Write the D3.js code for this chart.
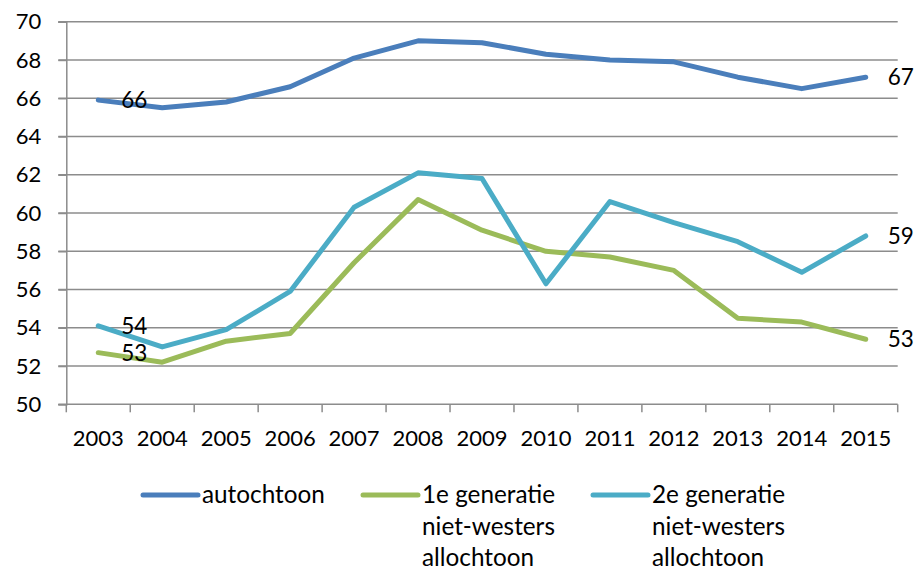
<!DOCTYPE html>
<html>
<head>
<meta charset="utf-8">
<script src="https://cdn.jsdelivr.net/npm/d3@7"></script>
<style>
  html, body { margin: 0; padding: 0; background: #fff; }
  svg { display: block; }
  text { font-family: Lato, "Open Sans", sans-serif; fill: #000; }
</style>
</head>
<body>
<script>
const years = ["2003","2004","2005","2006","2007","2008","2009","2010","2011","2012","2013","2014","2015"];
const autochtoon = [65.9, 65.5, 65.8, 66.6, 68.1, 69.0, 68.9, 68.3, 68.0, 67.9, 67.1, 66.5, 67.1];
const eerstegen  = [52.7, 52.2, 53.3, 53.7, 57.4, 60.7, 59.1, 58.0, 57.7, 57.0, 54.5, 54.3, 53.4];
const tweedegen  = [54.1, 53.0, 53.9, 55.9, 60.3, 62.1, 61.8, 56.3, 60.6, 59.5, 58.5, 56.9, 58.8];
const yTicks = [50, 52, 54, 56, 58, 60, 62, 64, 66, 68, 70];
const seriesNames = [["autochtoon"], ["1e generatie", "niet-westers", "allochtoon"], ["2e generatie", "niet-westers", "allochtoon"]];
const seriesColors = ["#4a7ebb", "#9bbb59", "#4bacc6"];
const labelFirst = ["66", "53", "54"];
const labelLast = ["67", "53", "59"];

const W = 918, H = 570;
const pLeft = 66.3, pRight = 897.7, pTop = 21.7, pBottom = 404.3;

const svg = d3.select("body").append("svg").attr("width", W).attr("height", H);

const x = d3.scaleBand().domain(years).range([pLeft, pRight]).padding(0);
const y = d3.scaleLinear().domain([50, 70]).range([pBottom, pTop]);

const gridColor = "#8c8c8c";

// gridlines
svg.append("g").selectAll("line").data(yTicks.filter(d => d !== 50)).join("line")
  .attr("x1", pLeft - 8).attr("x2", pRight)
  .attr("y1", d => y(d)).attr("y2", d => y(d))
  .attr("stroke", gridColor).attr("stroke-width", 1.5);

// y axis
const yAxis = d3.axisLeft(y).tickValues(yTicks).tickSize(8).tickPadding(17).tickFormat(d3.format("d"));
const gy = svg.append("g").attr("transform", `translate(${pLeft},0)`).call(yAxis);
gy.select(".domain").attr("stroke", gridColor).attr("stroke-width", 1.5);
gy.selectAll(".tick line").attr("stroke", gridColor).attr("stroke-width", 1.5);
gy.selectAll("text").attr("font-size", 22).attr("font-family", "Lato, sans-serif").attr("fill", "#000");

// x axis
const xAxis = d3.axisBottom(x).tickSize(0).tickPadding(26);
const gx = svg.append("g").attr("transform", `translate(0,${pBottom})`).call(xAxis);
gx.select(".domain").attr("stroke", gridColor).attr("stroke-width", 1.5).attr("d", `M${pLeft - 8},0H${pRight}`);
gx.selectAll("text").attr("font-size", 22).attr("font-family", "Lato, sans-serif").attr("fill", "#000");
// boundary tick marks
const bounds = years.map(d => x(d)).concat([x(years[years.length - 1]) + x.bandwidth()]);
svg.append("g").selectAll("line").data(bounds).join("line")
  .attr("x1", d => d).attr("x2", d => d)
  .attr("y1", pBottom).attr("y2", pBottom + 8)
  .attr("stroke", gridColor).attr("stroke-width", 1.5);

const cx = d => x(d) + x.bandwidth() / 2;
const allSeries = [autochtoon, eerstegen, tweedegen];
const line = d3.line().x((d, i) => cx(years[i])).y(d => y(d));

allSeries.forEach((vals, k) => {
  svg.append("path").datum(vals)
    .attr("d", line)
    .attr("fill", "none")
    .attr("stroke", seriesColors[k])
    .attr("stroke-width", 5)
    .attr("stroke-linejoin", "round")
    .attr("stroke-linecap", "round");
});

// data labels
allSeries.forEach((vals, k) => {
  const n = vals.length - 1;
  svg.append("text")
    .attr("x", cx(years[0]) + 23).attr("y", y(vals[0]))
    .attr("dy", "0.35em").attr("font-size", 22.5).text(labelFirst[k]);
  svg.append("text")
    .attr("x", cx(years[n]) + 22).attr("y", y(vals[n]))
    .attr("dy", "0.35em").attr("font-size", 22.5).text(labelLast[k]);
});

// legend
const legendX = [143, 363, 593];
const legendY = 495;
seriesNames.forEach((lines, k) => {
  const g = svg.append("g");
  g.append("line")
    .attr("x1", legendX[k]).attr("x2", legendX[k] + 55)
    .attr("y1", legendY).attr("y2", legendY)
    .attr("stroke", seriesColors[k]).attr("stroke-width", 5).attr("stroke-linecap", "round");
  const t = g.append("text").attr("x", legendX[k] + 59).attr("y", legendY + 8).attr("font-size", 24.3);
  lines.forEach((s, i) => {
    t.append("tspan").attr("x", legendX[k] + 59).attr("dy", i === 0 ? 0 : 31.5).text(s);
  });
});
</script>
</body>
</html>
